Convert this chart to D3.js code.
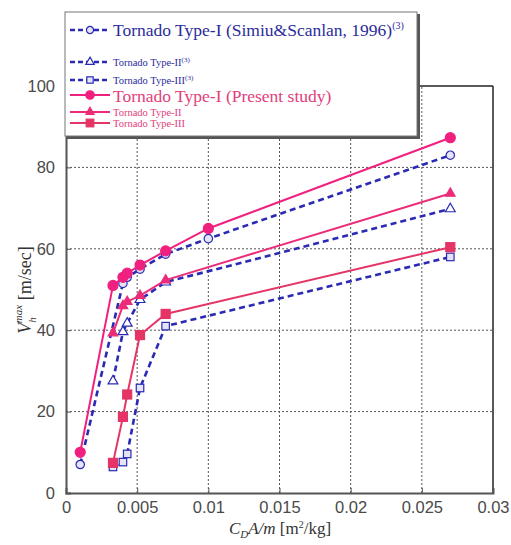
<!DOCTYPE html>
<html>
<head>
<meta charset="utf-8">
<script src="https://cdn.jsdelivr.net/npm/d3@7"></script>
<style>
  body { margin: 0; background: #fff; }
  svg { display: block; }
</style>
</head>
<body>
<svg id="chart" width="511" height="545"></svg>
<script>
// values
var xTicks = [0, 0.005, 0.01, 0.015, 0.02, 0.025, 0.03];
var yTicks = [0, 20, 40, 60, 80, 100];

var xTypeI_simiu = [0.001, 0.004, 0.0043, 0.0052, 0.007, 0.01, 0.027];
var vTypeI_simiu = [7, 51.5, 53, 55, 58.7, 62.5, 83];
var xTypeI = [0.001, 0.0033, 0.004, 0.0043, 0.0052, 0.007, 0.01, 0.027];
var vTypeI = [10, 51, 53, 54, 56, 59.5, 65, 87.3];

var xTypeII = [0.0033, 0.004, 0.0043, 0.0052, 0.007, 0.027];
var vTypeII_simiu = [27.5, 39.6, 41.7, 47.5, 51.8, 69.8];
var vTypeII = [39.3, 46, 47, 48.5, 52.3, 73.6];

var xTypeIII = [0.0033, 0.004, 0.0043, 0.0052, 0.007, 0.027];
var vTypeIII_simiu = [6.4, 7.6, 9.6, 25.8, 41, 58];
var vTypeIII = [7.4, 18.7, 24.2, 38.8, 44, 60.4];

var blue = "#2a2ab4";
var pinkI = "#f0207f";
var pinkII = "#ec2c78";
var pinkIII = "#e43566";

var series = [
  {xs: xTypeI_simiu, ys: vTypeI_simiu, color: blue, dashed: true, shape: "circle"},
  {xs: xTypeII, ys: vTypeII_simiu, color: blue, dashed: true, shape: "triangle"},
  {xs: xTypeIII, ys: vTypeIII_simiu, color: blue, dashed: true, shape: "square"},
  {xs: xTypeI, ys: vTypeI, color: pinkI, dashed: false, shape: "circle"},
  {xs: xTypeII, ys: vTypeII, color: pinkII, dashed: false, shape: "triangle"},
  {xs: xTypeIII, ys: vTypeIII, color: pinkIII, dashed: false, shape: "square"}
];

var legendRows = [
  {label: "Tornado Type-I (Simiu&Scanlan, 1996)", sup: "(3)", big: true, s: 0},
  {label: "Tornado Type-II", sup: "(3)", big: false, s: 1},
  {label: "Tornado Type-III", sup: "(3)", big: false, s: 2},
  {label: "Tornado Type-I (Present study)", sup: "", big: true, s: 3},
  {label: "Tornado Type-II", sup: "", big: false, s: 4},
  {label: "Tornado Type-III", sup: "", big: false, s: 5}
];

var svg = d3.select("#chart");
var x = d3.scaleLinear().domain([0, 0.03]).range([66, 493]);
var y = d3.scaleLinear().domain([0, 100]).range([493, 86]);

// grid
svg.append("g").selectAll("line.vg")
  .data(xTicks.slice(1, -1)).enter().append("line")
  .attr("x1", d => x(d)).attr("x2", d => x(d))
  .attr("y1", y(0)).attr("y2", y(100))
  .attr("stroke", "#555").attr("stroke-width", 1).attr("stroke-dasharray", "2,2");
svg.append("g").selectAll("line.hg")
  .data(yTicks.slice(1, -1)).enter().append("line")
  .attr("x1", x(0)).attr("x2", x(0.03))
  .attr("y1", d => y(d)).attr("y2", d => y(d))
  .attr("stroke", "#555").attr("stroke-width", 1).attr("stroke-dasharray", "2,2");

// frame
svg.append("line").attr("x1", x(0)).attr("x2", x(0.03)).attr("y1", y(100)).attr("y2", y(100))
  .attr("stroke", "#222").attr("stroke-width", 1.5);
svg.append("line").attr("x1", x(0.03)).attr("x2", x(0.03)).attr("y1", y(100)).attr("y2", y(0))
  .attr("stroke", "#222").attr("stroke-width", 1.5);

var xAxis = svg.append("g").attr("transform", "translate(0," + y(0) + ")")
  .call(d3.axisBottom(x).tickValues(xTicks).tickSize(-5).tickPadding(8)
    .tickFormat(d => d === 0 ? "0" : String(+d.toFixed(3))));
var yAxis = svg.append("g").attr("transform", "translate(" + x(0) + ",0)")
  .call(d3.axisLeft(y).tickValues(yTicks).tickSize(-5).tickPadding(11));
[xAxis, yAxis].forEach(function(g) {
  g.select(".domain").attr("stroke", "#555").attr("stroke-width", 2);
  g.selectAll(".tick line").attr("stroke", "#555");
  g.selectAll("text").attr("font-family", "Liberation Sans, Arial, sans-serif")
    .attr("font-size", 16.5).attr("fill", "#4a4a4a");
});

// lines
var line = d3.line().x(d => x(d[0])).y(d => y(d[1]));
function marker(g, shape, color, hollow, k) {
  k = k || 1;
  var fill = hollow ? "#e4e4f6" : color;
  if (shape === "circle") {
    g.append("circle").attr("r", (hollow ? 4.2 : 5) * k).attr("fill", fill)
      .attr("stroke", color).attr("stroke-width", 1.2);
  } else if (shape === "triangle") {
    g.append("path").attr("d", d3.symbol().type(d3.symbolTriangle).size((hollow ? 42 : 40) * k * k)())
      .attr("fill", hollow ? "#fff" : color).attr("stroke", color).attr("stroke-width", 1.2);
  } else {
    var s = (hollow ? 7.5 : 9) * k;
    g.append("rect").attr("x", -s / 2).attr("y", -s / 2).attr("width", s).attr("height", s)
      .attr("fill", fill).attr("stroke", color).attr("stroke-width", 1.2);
  }
}

series.forEach(function(sr) {
  var pts = sr.xs.map((v, i) => [v, sr.ys[i]]);
  svg.append("path").datum(pts).attr("d", line).attr("fill", "none")
    .attr("stroke", sr.color).attr("stroke-width", sr.dashed ? 2.6 : 2)
    .attr("stroke-dasharray", sr.dashed ? "6,4" : null);
  pts.forEach(function(p) {
    var g = svg.append("g").attr("transform", "translate(" + x(p[0]) + "," + y(p[1]) + ")");
    marker(g, sr.shape, sr.color, sr.dashed);
  });
});

// legend
var lg = svg.append("g");
lg.append("rect").attr("x", 67).attr("y", 14).attr("width", 353).attr("height", 125).attr("fill", "#555");
lg.append("rect").attr("x", 65).attr("y", 12).attr("width", 352).attr("height", 124)
  .attr("fill", "#fff").attr("stroke", "#777").attr("stroke-width", 1);
var rowY = [30, 62, 80, 95, 112, 123];
var baseY = [36, 66, 84, 102, 116, 127];
legendRows.forEach(function(r, i) {
  var sr = series[r.s];
  var row = lg.append("g");
  row.append("line").attr("x1", 70).attr("x2", 110).attr("y1", rowY[i]).attr("y2", rowY[i])
    .attr("stroke", sr.color).attr("stroke-width", sr.dashed ? 2.6 : 2.2)
    .attr("stroke-dasharray", sr.dashed ? "5,3" : null);
  var m = row.append("g").attr("transform", "translate(90," + rowY[i] + ")");
  marker(m, sr.shape, sr.color, sr.dashed, 0.85);
  var t = row.append("text").attr("x", 113).attr("y", baseY[i])
    .attr("font-family", "Liberation Serif, Times New Roman, serif")
    .attr("font-size", r.big ? 17.5 : 10.5)
    .attr("fill", sr.dashed ? "#2c2c9c" : "#e2407c")
    .text(r.label);
  if (r.sup) {
    t.append("tspan").attr("font-size", r.big ? 10 : 7).attr("dy", r.big ? -7 : -4).text(r.sup);
  }
});

// axis titles
var yt = svg.append("text")
  .attr("transform", "translate(31,290) rotate(-90)")
  .attr("text-anchor", "middle")
  .attr("font-family", "Liberation Serif, Times New Roman, serif")
  .attr("font-size", 18).attr("fill", "#333");
yt.append("tspan").attr("font-style", "italic").text("V");
yt.append("tspan").attr("font-style", "italic").attr("font-size", 11).attr("dy", 5).text("h");
yt.append("tspan").attr("font-style", "italic").attr("font-size", 11).attr("dy", -14).attr("dx", -6).text("max");
yt.append("tspan").attr("dy", 9).text("  [m/sec]");

var xt = svg.append("text")
  .attr("x", 280).attr("y", 534)
  .attr("text-anchor", "middle")
  .attr("font-family", "Liberation Serif, Times New Roman, serif")
  .attr("font-size", 17).attr("fill", "#333");
xt.append("tspan").attr("font-style", "italic").text("C");
xt.append("tspan").attr("font-style", "italic").attr("font-size", 11).attr("dy", 4).text("D");
xt.append("tspan").attr("font-style", "italic").attr("dy", -4).text("A/m");
xt.append("tspan").text("  [m");
xt.append("tspan").attr("font-size", 10).attr("dy", -6).text("2");
xt.append("tspan").attr("dy", 6).text("/kg]");
</script>
</body>
</html>
